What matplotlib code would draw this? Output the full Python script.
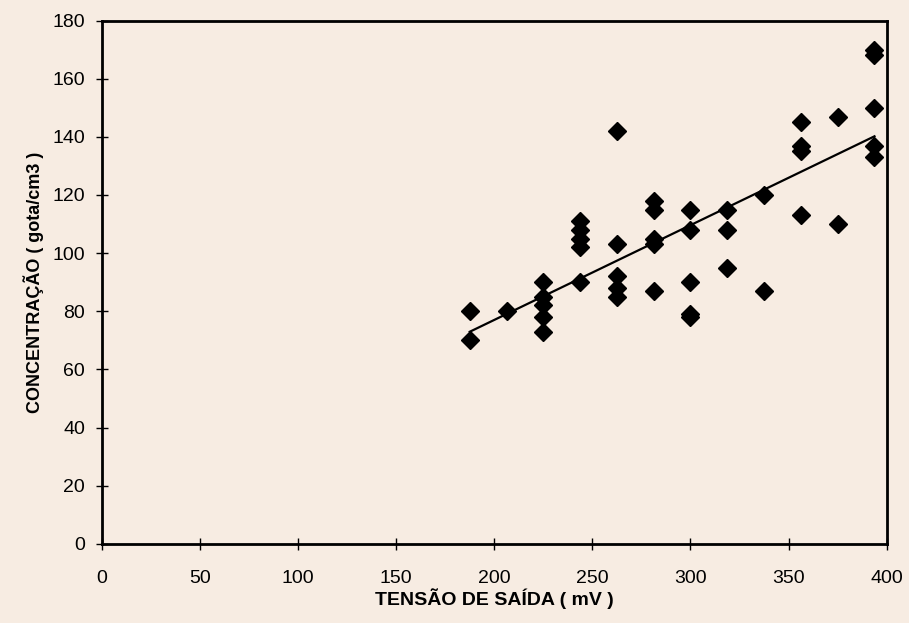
import matplotlib.pyplot as plt
import numpy as np

plt.rcParams['font.family'] = ['Liberation Sans', 'DejaVu Sans']

# Output voltage (mV) and concentration (gota/cm3), one entry per measured point
tensao = [187.5, 187.5,
          206.25,
          225, 225, 225, 225, 225,
          243.75, 243.75, 243.75, 243.75, 243.75,
          262.5, 262.5, 262.5, 262.5, 262.5,
          281.25, 281.25, 281.25, 281.25, 281.25,
          300, 300, 300, 300, 300,
          318.75, 318.75, 318.75,
          337.5, 337.5,
          356.25, 356.25, 356.25, 356.25,
          375, 375,
          393.75, 393.75, 393.75, 393.75, 393.75]
concentracao = [80, 70,
                80,
                90, 85, 82, 78, 73,
                111, 108, 105, 102, 90,
                142, 103, 92, 88, 85,
                118, 115, 105, 103, 87,
                115, 108, 90, 79, 78,
                115, 108, 95,
                120, 87,
                145, 137, 135, 113,
                147, 110,
                170, 168, 150, 137, 133]

x_ticks = [0, 50, 100, 150, 200, 250, 300, 350, 400]
y_ticks = [0, 20, 40, 60, 80, 100, 120, 140, 160, 180]

bg = '#f7ece2'

fig = plt.figure(figsize=(9.09, 6.23), dpi=100, facecolor=bg)
ax = fig.add_axes([0.112, 0.127, 0.8635, 0.840])
ax.set_facecolor(bg)

x = np.array(tensao)
y = np.array(concentracao)

# linear trend line
coef = np.polyfit(x, y, 1)
xl = np.array([x.min(), x.max()])
ax.plot(xl, np.polyval(coef, xl), color='black', linewidth=1.6, zorder=2)

ax.plot(x, y, linestyle='none', marker='D', markersize=9,
        color='black', zorder=3)

ax.set_xlim(0, 400)
ax.set_ylim(0, 180)
ax.set_xticks(x_ticks)
ax.set_yticks(y_ticks)
ax.tick_params(direction='inout', length=8, width=1, labelsize=14,
               colors='black', pad=8)
ax.tick_params(axis='x', pad=15)

for s in ax.spines.values():
    s.set_linewidth(2)
    s.set_color('black')

ax.set_xlabel('TENSÃO DE SAÍDA ( mV )', fontsize=14, fontweight='bold',
              labelpad=1)
ax.set_ylabel('CONCENTRAÇÃO ( gota/cm3 )', fontsize=13, fontweight='bold',
              labelpad=6)

plt.savefig('out.png', dpi=100, facecolor=bg)
plt.close()
